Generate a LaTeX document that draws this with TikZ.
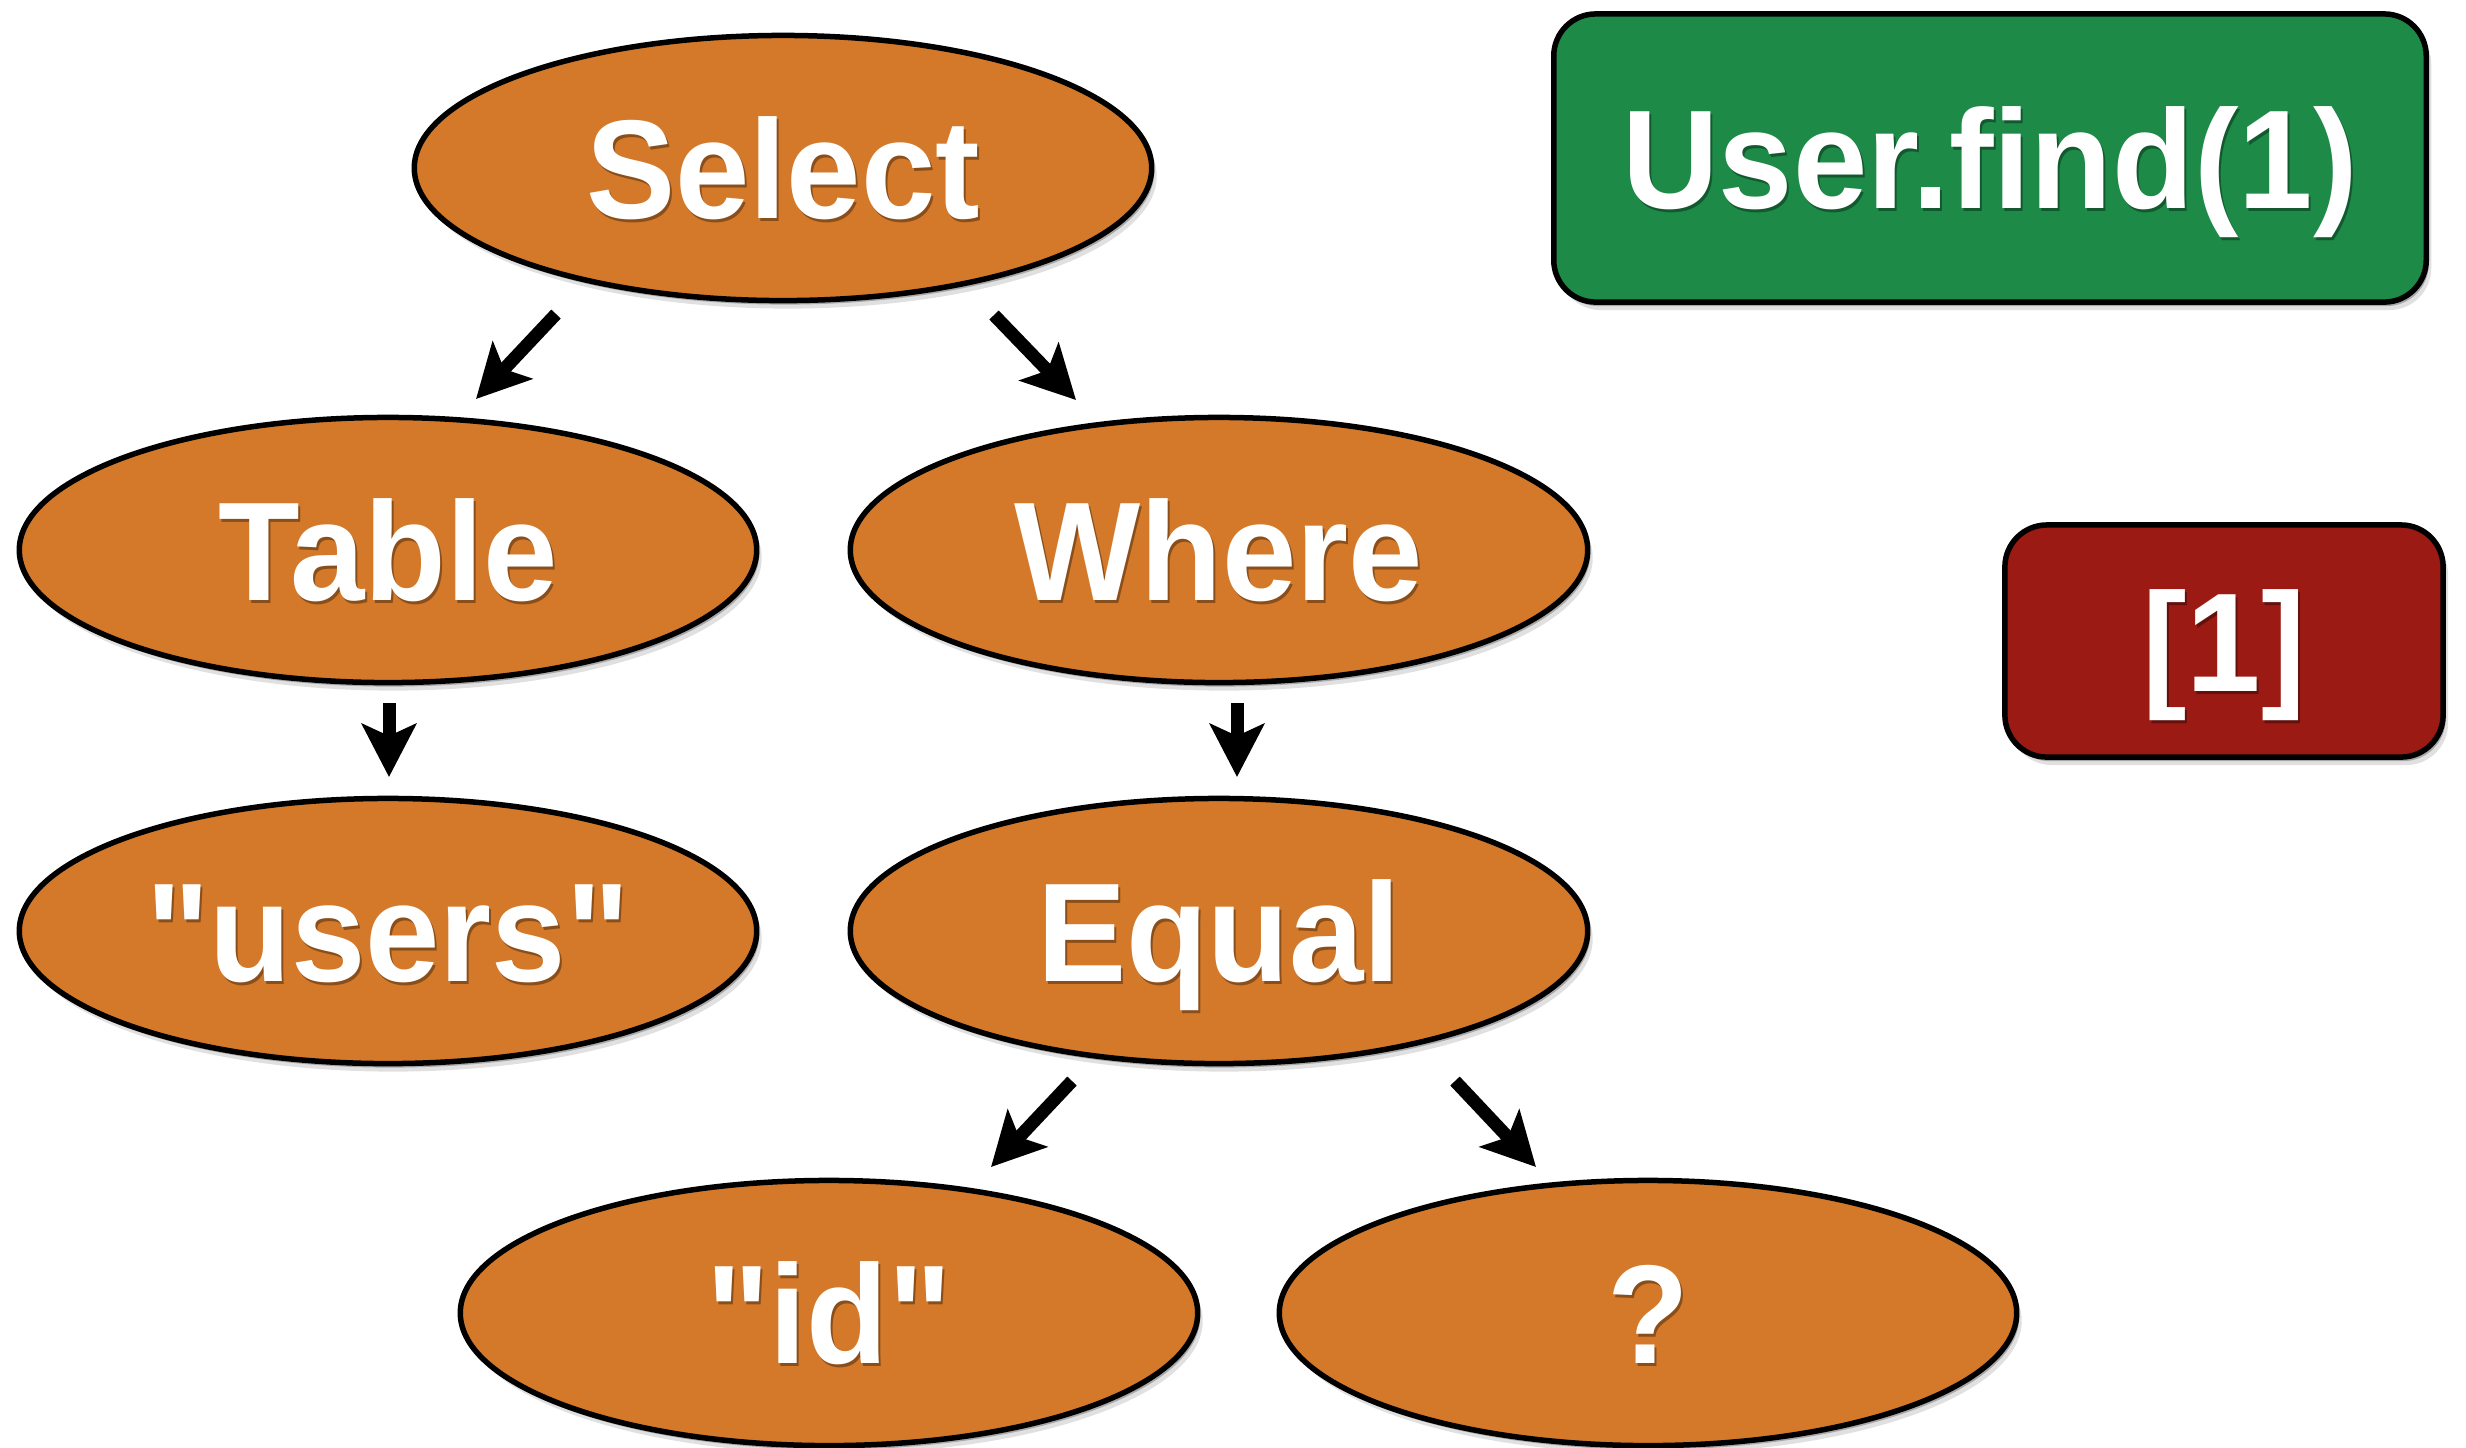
\documentclass[tikz,border=0pt]{standalone}
\usepackage{fontspec}
\setmainfont{Liberation Sans}[FakeStretch=0.95, Ligatures=TeXOff]
\usetikzlibrary{arrows.meta,shapes.geometric,shadows}
\definecolor{orng}{RGB}{212,121,42}
\definecolor{grn}{RGB}{29,138,72}
\definecolor{rd}{RGB}{155,26,20}
\newcommand\shtxt[1]{\leavevmode\rlap{\kern0.02cm\raisebox{-0.035cm}{\begin{pgfscope}\pgfsetfillopacity{0.35}\color{black}#1\end{pgfscope}}}#1}
\tikzset{
  lbl/.style={text=white, font=\fontsize{40}{40}\selectfont\bfseries, text height=1.0cm, text depth=0pt, inner sep=0pt},
  shd/.style={drop shadow={shadow xshift=0.05cm, shadow yshift=-0.08cm, opacity=0.12, fill=black},
              drop shadow={shadow xshift=0.025cm, shadow yshift=-0.04cm, opacity=0.25, fill=black}},
  ell/.style={ellipse, draw=black, line width=0.055cm, fill=orng, minimum width=7.37cm, minimum height=2.65cm, lbl, shd},
  rbox/.style={rectangle, draw=black, line width=0.055cm, rounded corners=0.42cm, lbl, shd},
  arr/.style={line width=0.13cm, -{Stealth[length=0.53cm, width=0.54cm, inset=0.12cm]}}
}
\begin{document}
\begin{tikzpicture}[x=0.01cm, y=-0.01cm]
\useasboundingbox (0,0) rectangle (2466,1447);
\node[ell] (sel) at (783,168) {\shtxt{Select}};
\node[ell] (tab) at (388,550) {\shtxt{Table}};
\node[ell] (whr) at (1219,550) {\shtxt{Where}};
\node[ell] (usr) at (388,931) {\shtxt{"users"}};
\node[ell] (eql) at (1219,931) {\shtxt{Equal}};
\node[ell] (idn) at (829,1313) {\shtxt{"id"}};
\node[ell] (qst) at (1648,1313) {\shtxt{?}};
\node[rbox, fill=grn, minimum width=8.72cm, minimum height=2.88cm] (find) at (1990,158) {\shtxt{User.find(1)}};
\node[rbox, fill=rd, minimum width=4.38cm, minimum height=2.32cm] (res) at (2224,641) {\shtxt{[1]}};
\coordinate (c1a) at (556,314); \coordinate (c1b) at (476,399);
\coordinate (c2a) at (994,315); \coordinate (c2b) at (1076,400);
\coordinate (c3a) at (389,703); \coordinate (c3b) at (389,777);
\coordinate (c4a) at (1237,703); \coordinate (c4b) at (1237,777);
\coordinate (c5a) at (1072,1081); \coordinate (c5b) at (991,1167);
\coordinate (c6a) at (1455,1081); \coordinate (c6b) at (1536,1167);
\draw[arr] (c1a) -- (c1b);
\draw[arr] (c2a) -- (c2b);
\draw[arr] (c3a) -- (c3b);
\draw[arr] (c4a) -- (c4b);
\draw[arr] (c5a) -- (c5b);
\draw[arr] (c6a) -- (c6b);
\end{tikzpicture}
\end{document}
